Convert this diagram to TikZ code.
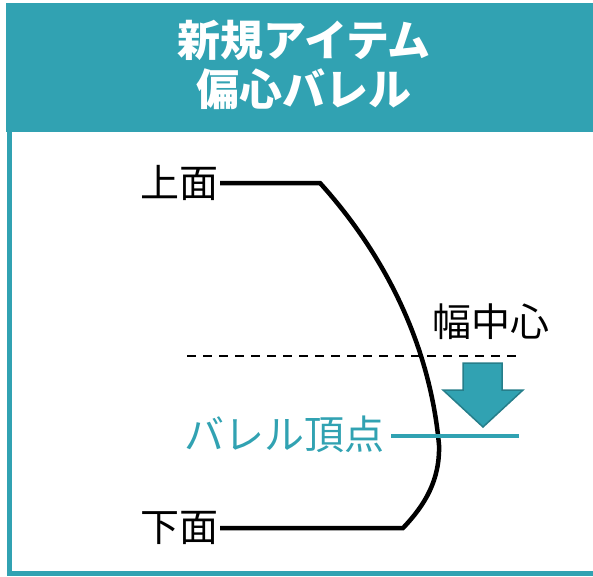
\documentclass[tikz,border=0pt]{standalone}
\usepackage{fontspec}
\newfontfamily\jp{Noto Sans CJK JP}
\definecolor{tealc}{RGB}{49,162,178}
\definecolor{tealdark}{RGB}{38,126,138}
\tikzset{
  label/.style={font=\jp\fontsize{39}{42}\selectfont, inner sep=1pt},
  title/.style={font=\jp\bfseries\fontsize{43}{46}\selectfont, text=white, inner sep=0pt},
  barrel/.style={line width=4.5pt, line join=miter},
}
\begin{document}
\begin{tikzpicture}[x=1pt,y=-1pt]
\useasboundingbox (0,0) rectangle (593,576);
\clip (0,0) rectangle (593,576);
% frame and header band
\fill[tealc] (6,3) rectangle (600,132);
\draw[tealc, line width=5pt] (9,130) -- (9,573.5) -- (600,573.5);
\node[title] (t1) at (304,40) {新規アイテム};
\node[title] (t2) at (304,89) {偏心バレル};
% labels
\node[label, anchor=east] (top) at (220,183) {上面};
\node[label, anchor=east] (bot) at (220,528) {下面};
\node[label, anchor=west] (wc) at (431,322) {幅中心};
\node[label, anchor=east, text=tealc, font=\jp\fontsize{40}{42}\selectfont] (apex) at (386,434) {バレル頂点};
% coordinates
\coordinate (c1) at (320,183);
\coordinate (c2) at (439,445);
\coordinate (c3) at (403,528);
\coordinate (d1) at (187,356);
\coordinate (d2) at (521,356);
\coordinate (a1) at (391,436);
\coordinate (a2) at (519,436);
% barrel profile
\draw[barrel] (top.east) -- (c1) .. controls (385,255) and (430,345) .. (c2)
  .. controls (440,480) and (425,505) .. (c3) -- (bot.east);
% width centre dashed line
\draw[line width=1.8pt, dash pattern=on 9pt off 7pt] (d1) -- (d2);
% barrel apex line
\draw[tealc, line width=4pt] (a1) -- (a2);
% arrow
\filldraw[fill=tealc, draw=tealdark, line width=1.5pt, line join=miter]
  (463,363) -- (502,363) -- (502,390) -- (523,390) -- (483,427) -- (443,390) -- (463,390) -- cycle;
\end{tikzpicture}
\end{document}
